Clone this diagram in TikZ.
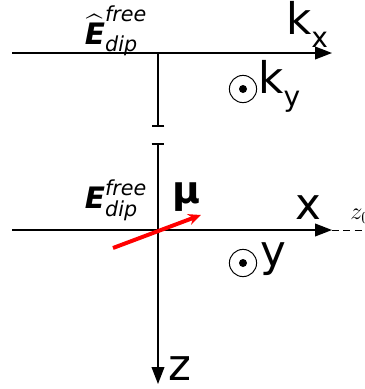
\documentclass[tikz,border=0pt]{standalone}
\usepackage{amsmath}
\usepackage{fontspec}
\setmainfont{DejaVu Sans}
\usetikzlibrary{arrows.meta}
\begin{document}
\begin{tikzpicture}[x=0.025cm,y=-0.025cm,
    axis/.style ={line width=1.1pt, -{Triangle[length=12pt,width=9pt]}},
    big/.style  ={inner sep=0pt, font=\fontsize{31}{31}\selectfont},
    efld/.style ={inner sep=0pt, font=\fontsize{21}{21}\selectfont},
    odot/.style ={draw, circle, line width=0.7pt, minimum size=0.68cm, inner sep=0pt},
  ]
  \useasboundingbox (0,0) rectangle (365,389);
  % k-space axes (top)
  \coordinate (kx0) at (12,53);
  \coordinate (kx1) at (332,53);
  \coordinate (ko)  at (158,53);
  \coordinate (gt)  at (158,127);
  \draw[axis] (kx0) -- (kx1);
  \draw[line width=1.1pt, -{Bar[width=9pt]}] (ko) -- (gt);
  \node[efld] (ehat) at (116,31) {$\widehat{\textbf{\textit{E}}}^{\textit{free}}_{\textit{dip}}$};
  \node[big] (kx) at (307,24) {k\raisebox{-0.3em}{\fontsize{20}{20}\selectfont x}};
  \node[odot] (kyc) at (243,89) {};
  \fill (kyc.center) circle (4);
  \node[big, anchor=west] (ky) at (258,86) {k\raisebox{-0.3em}{\fontsize{20}{20}\selectfont y}};

  % real-space axes (bottom)
  \coordinate (gb)  at (158,143);
  \coordinate (z1)  at (158,384);
  \coordinate (x0)  at (12,230);
  \coordinate (x1)  at (332,230);
  \coordinate (xd)  at (366,230);
  \draw[line width=1.1pt, {Bar[width=9pt]}-{Triangle[length=12pt,width=9pt]}] (gb) -- (z1);
  \draw[axis] (x0) -- (x1);
  \draw[line width=0.7pt, dashed, dash pattern=on 5pt off 3pt] (x1) -- (xd);
  \node[anchor=west, inner sep=0pt, font=\fontsize{17}{17}\selectfont] (z0) at (350,216) {$z_0$};
  \node[big] (x) at (308,208) {x};
  \node[big] (z) at (180,369) {z};
  \node[odot] (yc) at (243,263) {};
  \fill (yc.center) circle (4);
  \node[big, anchor=west] (y) at (260,259) {y};
  \node[efld] (edip) at (116,200) {$\textbf{\textit{E}}^{\textit{free}}_{\textit{dip}}$};
  \node[inner sep=0pt, font=\fontsize{27}{27}\selectfont\bfseries] (mu) at (186,197) {μ};

  % dipole
  \coordinate (mu0) at (113,248);
  \coordinate (mu1) at (201,215);
  \draw[red, line width=2.8pt, -{Stealth[length=9pt,width=8pt]}] (mu0) -- (mu1);
\end{tikzpicture}
\end{document}
